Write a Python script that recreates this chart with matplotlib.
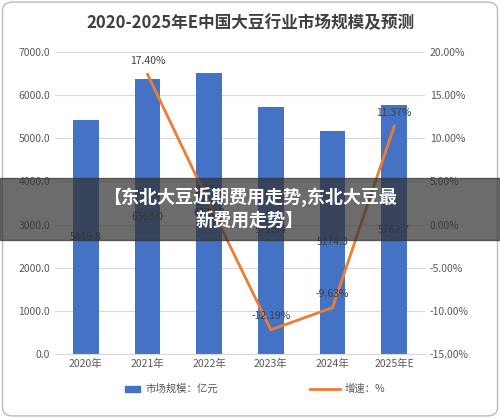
import matplotlib
matplotlib.use('Agg')
import matplotlib.pyplot as plt
from matplotlib.patches import FancyBboxPatch, Rectangle
plt.rcParams['font.family'] = ['Noto Sans CJK SC', 'DejaVu Sans']

years = ['2020年', '2021年', '2022年', '2023年', '2024年', '2025年E']
market = [5419.8, 6363.0, 6520.0, 5725.4, 5174.3, 5762.7]
growth = [None, 17.40, 2.47, -12.19, -9.63, 11.37]
title = '2020-2025年E中国大豆行业市场规模及预测'
banner = '【东北大豆近期费用走势,东北大豆最\n新费用走势】'

fig = plt.figure(figsize=(5.0, 4.18), dpi=100)
fig.patches.append(FancyBboxPatch((0.005, 0.005), 0.99, 0.99, boxstyle='round,pad=0,rounding_size=0.02',
                                  transform=fig.transFigure, fill=False, ec='#bbbbbb', lw=1))
ax = fig.add_axes([0.11, 0.153, 0.74, 0.723])
x = list(range(len(years)))
ax.bar(x, market, width=0.42, color='#4472C4', zorder=2)
ax.set_ylim(0, 7000)
ax.set_yticks(range(0, 7001, 1000))
ax.set_yticklabels([f'{v:.1f}' for v in range(0, 7001, 1000)])
ax.set_xlim(-0.5, 5.5)
ax.set_xticks(x)
ax.set_xticklabels(years)
ax.grid(axis='y', color='#d9d9d9', lw=0.8, zorder=0)
for s in ['top', 'right', 'left']:
    ax.spines[s].set_visible(False)
ax.spines['bottom'].set_color('#d9d9d9')
ax.tick_params(length=0, labelsize=7.5, colors='#595959')
for i, v in enumerate(market):
    ax.text(i, v / 2, f'{v:.1f}', ha='center', va='center', fontsize=7.5, color='#404040', zorder=5)

ax2 = ax.twinx()
gx = [i for i, g in enumerate(growth) if g is not None]
gy = [g for g in growth if g is not None]
ax2.plot(gx, gy, color='#ED7D31', lw=2, zorder=3)
ax2.set_ylim(-15, 20)
ax2.set_yticks(range(-15, 21, 5))
ax2.set_yticklabels([f'{v:.2f}%' for v in range(-15, 21, 5)])
for s in ['top', 'right', 'left', 'bottom']:
    ax2.spines[s].set_visible(False)
ax2.tick_params(length=0, labelsize=7.5, colors='#595959')
for i, g in zip(gx, gy):
    ax2.text(i, g + 1.0, f'{g:.2f}%', ha='center', va='bottom', fontsize=7.5, color='#404040')

fig.text(0.5, 0.945, title, ha='center', va='center', fontsize=12, fontweight='bold', color='#404040')
fig.patches.append(Rectangle((0.25, 0.062), 0.03, 0.014, transform=fig.transFigure, color='#4472C4'))
fig.text(0.29, 0.069, '市场规模：亿元', va='center', fontsize=7.5, color='#595959')
fig.lines.append(plt.Line2D([0.62, 0.68], [0.069, 0.069], transform=fig.transFigure, color='#ED7D31', lw=2))
fig.text(0.69, 0.069, '增速：%', va='center', fontsize=7.5, color='#595959')

fig.patches.append(Rectangle((0.0, 0.426), 1.0, 0.148, transform=fig.transFigure, color='#333333', alpha=0.72, zorder=10))
fig.text(0.5, 0.5, banner, ha='center', va='center', fontsize=13, fontweight='bold', color='white',
         linespacing=1.25, zorder=11)
fig.savefig('out.png', dpi=100)
